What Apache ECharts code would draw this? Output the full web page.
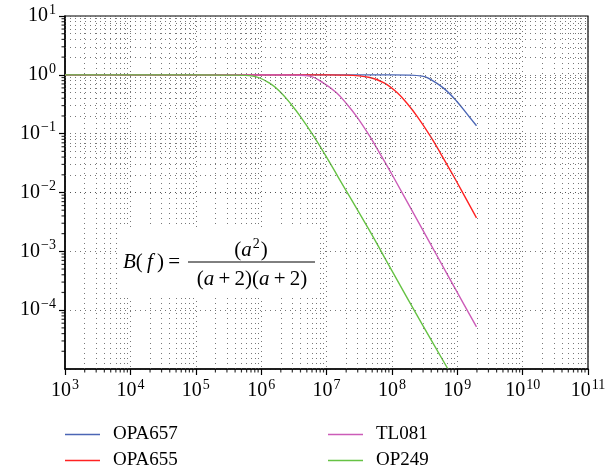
<!DOCTYPE html>
<html><head><meta charset="utf-8">
<script src="https://cdn.jsdelivr.net/npm/echarts@6/dist/echarts.min.js"></script>
<style>html,body{margin:0;padding:0;background:#fff}#c{width:616px;height:473px}</style>
</head><body><div id="c"></div>
<script>
// ---- data ----
const seriesNames = ['OPA657', 'OPA655', 'TL081', 'OP249'];
const opa657 = [[1e3,1],[1e8,1],[1.8e8,0.99],[2.9e8,0.95],[3.6e8,0.88],[6.1e8,0.6],[9.8e8,0.356],[1.57e9,0.186],[1.97e9,0.136]];
const opa655 = [[1e3,1],[1e7,1],[2e7,0.99],[4.6e7,0.9],[7.6e7,0.73],[1.2e8,0.5],[1.74e8,0.32],[2.45e8,0.195],[3.9e8,0.09],[5.6e8,0.0455],[8.9e8,0.0185],[1.97e9,0.0037]];
const tl081 = [[1e3,1],[2e6,1],[3.5e6,0.99],[5.6e6,0.95],[8.9e6,0.73],[1.41e7,0.5],[2.04e7,0.32],[2.9e7,0.195],[4.6e7,0.09],[6.6e7,0.0455],[1.05e8,0.0185],[2.85e8,2.5e-3],[5e8,8.1e-4],[1e9,2.0e-4],[1.97e9,5.2e-5]];
const op249 = [[1e3,1],[1e5,1],[3.5e5,0.99],[7.5e5,0.95],[1.33e6,0.73],[2.0e6,0.5],[2.85e6,0.32],[4.0e6,0.195],[6.4e6,0.09],[9.5e6,0.044],[1.5e7,0.0185],[4.4e7,2.4e-3],[1e8,4.7e-4],[3e8,5.4e-5],[7.2e8,1e-5]];
const xDecades = [1e3,1e4,1e5,1e6,1e7,1e8,1e9,1e10];
const yDecades = [1e-5,1e-4,1e-3,1e-2,1e-1,1];
const minorMultipliers = [2,3,4,5,6,7,8,9];
const xMin = 1e3, xMax = 1e11, yMin = 1e-5, yMax = 10;

const colors = ['#4B66B5', '#FF2222', '#CC5CB8', '#66C244'];
const SERIF = '"Liberation Serif","DejaVu Serif",serif';

const xMinor = [], yMinor = [];
xDecades.forEach(d => minorMultipliers.forEach(m => xMinor.push(d * m)));
yDecades.forEach(d => minorMultipliers.forEach(m => yMinor.push(d * m)));

function powLabel(v) {
  const e = Math.round(Math.log10(v));
  const s = e < 0 ? '\u2212' + (-e) : String(e);
  return '{b|10}{s|' + s + '}';
}
const labelRich = {
  b: {fontFamily: SERIF, fontSize: 20, color: '#000', verticalAlign: 'middle'},
  s: {fontFamily: SERIF, fontSize: 14, color: '#000', verticalAlign: 'middle', padding: [0, 0, 12, 1]}
};
const gridDot = {color: '#555', width: 0.8, type: [1, 4]};

const chart = echarts.init(document.getElementById('c'));
const datasets = [opa657, opa655, tl081, op249];
const lineSeries = seriesNames.map((n, i) => ({
  name: n, type: 'line', data: datasets[i], symbol: 'none', showSymbol: false,
  smooth: 0.4, lineStyle: {width: 1.4, color: colors[i]}, itemStyle: {color: colors[i]}, z: 3
}));

const legendPos = [[65, 425], [65, 451], [328, 425], [328, 451]];
const legendOrder = ['OPA657', 'OPA655', 'TL081', 'OP249'];
const legends = legendOrder.map((n, i) => ({
  data: [n], left: legendPos[i][0], top: legendPos[i][1], icon: 'rect', itemWidth: 35, itemHeight: 1.3,
  padding: 0, selectedMode: false,
  textStyle: {fontFamily: SERIF, fontSize: 19, color: '#000', padding: [0, 0, 0, 8]}
}));

const mathI = {fontFamily: SERIF, fontStyle: 'italic', fontSize: 21, fill: '#000'};
const mathR = {fontFamily: SERIF, fontSize: 21, fill: '#000'};

chart.setOption({
  animation: false,
  grid: {left: 65, right: 28, top: 16, bottom: 104, show: true, borderColor: '#000', borderWidth: 1.2, backgroundColor: 'transparent'},
  xAxis: {
    type: 'log', logBase: 10, min: xMin, max: xMax, splitNumber: 8,
    axisLine: {onZero: false, lineStyle: {color: '#000', width: 1.5}},
    axisTick: {length: 6, lineStyle: {color: '#000', width: 1.2}},
    splitLine: {show: true, lineStyle: gridDot},
    axisLabel: {formatter: powLabel, rich: labelRich, margin: 9, showMinLabel: true, showMaxLabel: true}
  },
  yAxis: {
    type: 'log', logBase: 10, min: yMin, max: yMax, splitNumber: 6,
    axisLine: {onZero: false, lineStyle: {color: '#000', width: 1.5}},
    axisTick: {length: 6, lineStyle: {color: '#000', width: 1.2}},
    splitLine: {show: true, lineStyle: gridDot},
    axisLabel: {formatter: powLabel, rich: labelRich, margin: 9, showMinLabel: false, showMaxLabel: true}
  },
  legend: legends,
  series: [
    {
      name: '_xticks', type: 'scatter', data: xMinor.map(v => [v, yMin]), symbol: 'rect',
      symbolSize: [1.2, 3.5], symbolOffset: [0, 1.75], itemStyle: {color: '#000'}, silent: true, clip: false, z: 4,
      markLine: {
        silent: true, symbol: ['none', 'none'], label: {show: false}, animation: false,
        lineStyle: gridDot, emphasis: {disabled: true},
        data: xMinor.map(v => ({xAxis: v})).concat(yMinor.map(v => ({yAxis: v})))
      }
    },
    {
      name: '_yticks', type: 'scatter', data: yMinor.map(v => [xMin, v]), symbol: 'rect',
      symbolSize: [3.5, 1.2], symbolOffset: [-1.75, 0], itemStyle: {color: '#000'}, silent: true, clip: false, z: 4
    }
  ].concat(lineSeries),
  graphic: [
    {type: 'rect', shape: {x: 118, y: 227, width: 200, height: 70}, style: {fill: '#fff'}, z: 50, silent: true},
    {type: 'text', x: 123, y: 262, z: 51, silent: true,
     style: {text: '{i|B}{r|(\u2009}{i|f}{r|\u2009)\u2009=}', align: 'left', verticalAlign: 'middle', rich: {i: mathI, r: mathR}}},
    {type: 'line', shape: {x1: 188, y1: 262, x2: 315, y2: 262}, style: {stroke: '#000', lineWidth: 1}, z: 51, silent: true},
    {type: 'text', x: 251, y: 250, z: 51, silent: true,
     style: {text: '{r|(}{i|a}{p|2}{r|)}', align: 'center', verticalAlign: 'middle',
       rich: {i: mathI, r: mathR, p: {fontFamily: SERIF, fontSize: 14, fill: '#000', padding: [0, 1, 12, 1]}}}},
    {type: 'text', x: 252, y: 279, z: 51, silent: true,
     style: {text: '{r|(}{i|a}{r|\u2009+\u20092)(}{i|a}{r|\u2009+\u20092)}', align: 'center', verticalAlign: 'middle', rich: {i: mathI, r: mathR}}}
  ]
});
</script>
</body></html>
